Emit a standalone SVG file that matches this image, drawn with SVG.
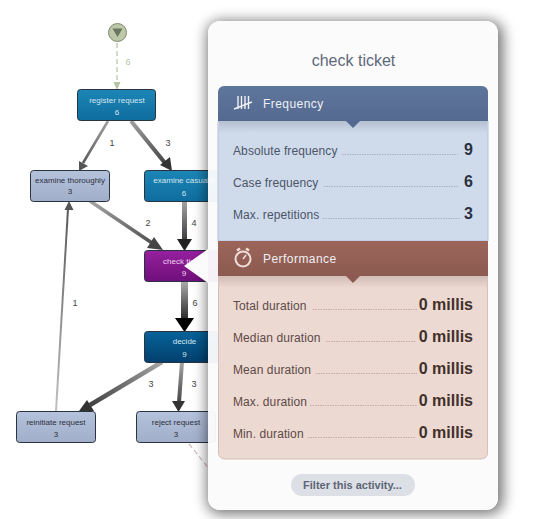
<svg xmlns="http://www.w3.org/2000/svg" width="557" height="519" viewBox="0 0 557 519">
<style>
text{font-family:"Liberation Sans",Arial,sans-serif}
.n{font-size:8px;text-anchor:middle}
.lt{fill:#d6e6f0}.dk{fill:#2b2f3a}
.box{stroke:#2a3340;stroke-width:1}
.el{font-size:9px;fill:#444;text-anchor:middle}
.lab{font-size:12px;letter-spacing:.1px}
.val{font-size:16px;font-weight:bold;text-anchor:end}
.hd{font-size:12px;fill:#eef0f4;letter-spacing:.45px}
.f{fill:#4c5568}.fv{fill:#2b3040}.p{fill:#5e4a46}.pv{fill:#40302c}
.dotf{stroke:#a9b0bd;stroke-width:1;stroke-dasharray:1.5 1}
.dotp{stroke:#c4aca6;stroke-width:1;stroke-dasharray:1.5 1}
</style>
<defs>
<linearGradient id="gb" x1="0" y1="0" x2="0" y2="1"><stop offset="0" stop-color="#1c86b6"/><stop offset="1" stop-color="#0e6d9e"/></linearGradient>
<linearGradient id="gd" x1="0" y1="0" x2="0" y2="1"><stop offset="0" stop-color="#06639a"/><stop offset="1" stop-color="#033f6d"/></linearGradient>
<linearGradient id="gl" x1="0" y1="0" x2="0" y2="1"><stop offset="0" stop-color="#b5c2dc"/><stop offset="1" stop-color="#a1aec9"/></linearGradient>
<linearGradient id="gp" x1="0" y1="0" x2="0" y2="1"><stop offset="0" stop-color="#96209e"/><stop offset="1" stop-color="#6f0f7a"/></linearGradient>
<linearGradient id="hf" x1="0" y1="0" x2="0" y2="1"><stop offset="0" stop-color="#5f769c"/><stop offset="1" stop-color="#54698f"/></linearGradient>
<linearGradient id="hp" x1="0" y1="0" x2="0" y2="1"><stop offset="0" stop-color="#9c655a"/><stop offset="1" stop-color="#8c5a50"/></linearGradient>
<linearGradient id="sf" x1="0" y1="0" x2="0" y2="1"><stop offset="0" stop-color="#b4bfd0"/><stop offset="1" stop-color="#cfdbeb"/></linearGradient>
<linearGradient id="sp" x1="0" y1="0" x2="0" y2="1"><stop offset="0" stop-color="#d2bcb5"/><stop offset="1" stop-color="#ecd9d2"/></linearGradient>
<linearGradient id="e1" gradientUnits="userSpaceOnUse" x1="108" y1="121" x2="80" y2="170"><stop offset="0" stop-color="#a0a0a0"/><stop offset="1" stop-color="#505050"/></linearGradient>
<linearGradient id="e2" gradientUnits="userSpaceOnUse" x1="131" y1="121" x2="172" y2="171"><stop offset="0" stop-color="#a0a0a0"/><stop offset="1" stop-color="#333"/></linearGradient>
<linearGradient id="e3" gradientUnits="userSpaceOnUse" x1="90" y1="201" x2="162" y2="250"><stop offset="0" stop-color="#a5a5a5"/><stop offset="1" stop-color="#444"/></linearGradient>
<linearGradient id="e4" gradientUnits="userSpaceOnUse" x1="184" y1="201" x2="184" y2="250"><stop offset="0" stop-color="#a5a5a5"/><stop offset="1" stop-color="#222"/></linearGradient>
<linearGradient id="e5" gradientUnits="userSpaceOnUse" x1="184" y1="282" x2="184" y2="331"><stop offset="0" stop-color="#aaa"/><stop offset="1" stop-color="#000"/></linearGradient>
<linearGradient id="e6" gradientUnits="userSpaceOnUse" x1="162" y1="362" x2="80" y2="411"><stop offset="0" stop-color="#a5a5a5"/><stop offset="1" stop-color="#333"/></linearGradient>
<linearGradient id="e7" gradientUnits="userSpaceOnUse" x1="181" y1="362" x2="178" y2="411"><stop offset="0" stop-color="#a5a5a5"/><stop offset="1" stop-color="#333"/></linearGradient>
<linearGradient id="e8" gradientUnits="userSpaceOnUse" x1="56" y1="411" x2="69" y2="201"><stop offset="0" stop-color="#c0c0c0"/><stop offset="1" stop-color="#555"/></linearGradient>
<filter id="sh" x="-20%" y="-20%" width="140%" height="140%"><feGaussianBlur stdDeviation="7"/></filter>
<mask id="cut" maskUnits="userSpaceOnUse" x="0" y="0" width="557" height="519"><rect width="557" height="519" fill="#fff"/><rect x="208" y="21" width="290" height="489" rx="12" fill="#000"/></mask>
</defs>

<g id="connectors" fill="none">
<path d="M117 43V83" stroke="#b5c3a3" stroke-width="1.200" stroke-dasharray="5 3"/>
<polygon points="117,90 113.500,82 120.500,82" fill="#b5c3a3"/>
<path d="M108 121L83 163" stroke="url(#e1)" stroke-width="2.600"/>
<polygon points="79,171 79,161 88,166" fill="#555"/>
<path d="M131 121L165 163" stroke="url(#e2)" stroke-width="4.200"/>
<polygon points="172,171 160,165 170,157" fill="#333"/>
<path d="M90 201L155 245" stroke="url(#e3)" stroke-width="3.500"/>
<polygon points="163,250 147,248 154,237" fill="#444"/>
<path d="M184.500 201V240" stroke="url(#e4)" stroke-width="5"/>
<polygon points="184.500,251 177,239 192,239" fill="#222"/>
<path d="M184.500 282V320" stroke="url(#e5)" stroke-width="7"/>
<polygon points="184.500,332 175,318 194,318" fill="#000"/>
<path d="M162 362L90 405" stroke="url(#e6)" stroke-width="4.500"/>
<polygon points="79,411 87,400 94,411" fill="#333"/>
<path d="M182 362L179 402" stroke="url(#e7)" stroke-width="4"/>
<polygon points="178.500,412 172,401 185,401" fill="#333"/>
<path d="M56 411L68 209" stroke="url(#e8)" stroke-width="2"/>
<polygon points="69,201 64.500,210 73.500,210" fill="#555"/>
<path d="M189 444L215 476" stroke="#d0baba" stroke-width="1.200" stroke-dasharray="5 3"/>
<text class="el" x="128" y="65" style="fill:#b5c3a3">6</text>
<text class="el" x="112" y="146">1</text>
<text class="el" x="168" y="146">3</text>
<text class="el" x="148" y="226">2</text>
<text class="el" x="194" y="226">4</text>
<text class="el" x="195" y="306">6</text>
<text class="el" x="75" y="306">1</text>
<text class="el" x="151" y="387">3</text>
<text class="el" x="194" y="387">3</text>
</g>

<g id="start"><circle cx="117.500" cy="32.500" r="9" fill="#bcc8a8" stroke="#7f8a70"/><polygon points="112.500,28.500 122.500,28.500 117.500,37" fill="#6b7560"/></g>
<g id="register-request"><rect class="box" x="77.500" y="89.500" width="78" height="31" rx="3" fill="url(#gb)"/><text class="n lt" x="117" y="103">register request</text><text class="n lt" x="117" y="115">6</text></g>
<g id="examine-thoroughly"><rect class="box" x="30.500" y="170.500" width="79" height="31" rx="3" fill="url(#gl)"/><text class="n dk" x="70" y="183">examine thoroughly</text><text class="n dk" x="70" y="194">3</text></g>
<g id="examine-casually"><rect class="box" x="144.500" y="170.500" width="79" height="31" rx="3" fill="url(#gb)"/><text class="n lt" x="184" y="183">examine casually</text><text class="n lt" x="184" y="196">6</text></g>
<g id="check-ticket"><rect class="box" x="144.500" y="250.500" width="79" height="31" rx="3" fill="url(#gp)" stroke="#5d0d68"/><text class="n" fill="#ecd5ee" x="184" y="264">check ticket</text><text class="n" fill="#ecd5ee" x="184" y="276">9</text></g>
<g id="decide"><rect class="box" x="144.500" y="331.500" width="79" height="31" rx="3" fill="url(#gd)"/><text class="n lt" x="184.500" y="344">decide</text><text class="n lt" x="184.500" y="357">9</text></g>
<g id="reinitiate-request"><rect class="box" x="16.500" y="411.500" width="79" height="31" rx="3" fill="url(#gl)"/><text class="n dk" x="56" y="425">reinitiate request</text><text class="n dk" x="56" y="437">3</text></g>
<g id="reject-request"><rect class="box" x="136.500" y="411.500" width="79" height="31" rx="3" fill="url(#gl)"/><text class="n dk" x="176" y="425">reject request</text><text class="n dk" x="176" y="437">3</text></g>

<g id="panel">
<g mask="url(#cut)"><rect x="207" y="21" width="296" height="493" rx="14" fill="#000" opacity=".55" filter="url(#sh)"/></g>
<polygon points="208,249 184,266 208,283" fill="#fbfbfc"/>
<rect x="208" y="21" width="290" height="489" rx="12" fill="#fbfbfc" fill-opacity=".96"/>
<text x="353.500" y="66" font-size="16" fill="#5f6879" text-anchor="middle">check ticket</text>

<path d="M218 121H488V241H218Z" fill="#cfdbeb" stroke="#b4c1d6"/>
<rect x="219" y="121" width="268" height="12" fill="url(#sf)"/>
<path d="M218 121V92a6 6 0 0 1 6-6H482a6 6 0 0 1 6 6V121Z" fill="url(#hf)"/>
<polygon points="346,121 360,121 353,128" fill="#54698f"/>
<g stroke="#eef0f4" stroke-width="1.400" fill="none"><path d="M238 96V109M241.500 96V109M245 96V109M248.500 96V109M234 109L252 102"/></g>
<text class="hd" x="263" y="108">Frequency</text>
<text class="lab f" x="233" y="155">Absolute frequency</text><path class="dotf" d="M342 154.500H458"/><text class="val fv" x="473" y="155">9</text>
<text class="lab f" x="233" y="187">Case frequency</text><path class="dotf" d="M324 186.500H458"/><text class="val fv" x="473" y="187">6</text>
<text class="lab f" x="233" y="219">Max. repetitions</text><path class="dotf" d="M323 218.500H460"/><text class="val fv" x="473" y="219">3</text>

<path d="M218.500 276H487.500V453a6 6 0 0 1-6 6H224.500a6 6 0 0 1-6-6Z" fill="#ecd9d2" stroke="#d8c0b8"/>
<rect x="219" y="276" width="268" height="12" fill="url(#sp)"/>
<rect x="218" y="241" width="270" height="35" fill="url(#hp)"/>
<polygon points="346,276 360,276 353,283" fill="#8c5a50"/>
<g fill="none" stroke="#eeddd8"><circle cx="243" cy="259" r="7.500" stroke-width="2"/><path d="M243 259L246 255" stroke-width="1.500"/><path d="M237 250.500L240 248.500M249 250.500L246 248.500" stroke-width="2.500"/></g>
<text class="hd" x="263" y="263">Performance</text>
<text class="lab p" x="233" y="310">Total duration</text><path class="dotp" d="M313 309.500H417"/><text class="val pv" x="473" y="310">0 millis</text>
<text class="lab p" x="233" y="342">Median duration</text><path class="dotp" d="M326 341.500H415"/><text class="val pv" x="473" y="342">0 millis</text>
<text class="lab p" x="233" y="374">Mean duration</text><path class="dotp" d="M316 373.500H417"/><text class="val pv" x="473" y="374">0 millis</text>
<text class="lab p" x="233" y="406">Max. duration</text><path class="dotp" d="M310 405.500H417"/><text class="val pv" x="473" y="406">0 millis</text>
<text class="lab p" x="233" y="438">Min. duration</text><path class="dotp" d="M308 437.500H415"/><text class="val pv" x="473" y="438">0 millis</text>

<rect x="291" y="474" width="124" height="22" rx="11" fill="#dcdfe5"/>
<text x="352.500" y="489" font-size="11" font-weight="bold" fill="#5d6676" text-anchor="middle">Filter this activity...</text>
</g>
</svg>
